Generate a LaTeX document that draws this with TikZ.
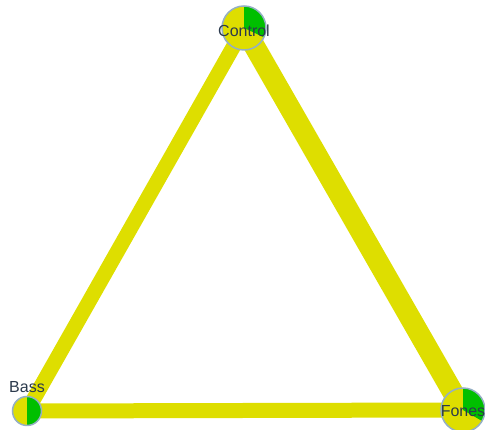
\documentclass[tikz,border=0pt]{standalone}
\usepackage{fontspec}
\setsansfont{Liberation Sans}
\definecolor{linkyellow}{HTML}{DEDE00}
\definecolor{piegreen}{HTML}{00BF00}
\definecolor{rimblue}{HTML}{94AFC4}
\definecolor{labelgray}{HTML}{2B3A4C}
\tikzset{
  link/.style={draw=linkyellow},
  label text/.style={font=\sffamily\fontsize{16}{16}\selectfont, text=labelgray, inner sep=0pt}
}
\newcommand{\piechart}[3]{% centre, radius, end angle of green part
  \fill[linkyellow] (#1) circle (#2);
  \fill[piegreen] (#1) -- ++(90:#2) arc (90:#3:#2) -- cycle;
  \draw[rimblue, line width=1.5pt] (#1) circle (#2);
}
\begin{document}
\begin{tikzpicture}[x=1pt, y=1pt]
	  \useasboundingbox (0,0) rectangle (485,430);
	  \clip (0,0) rectangle (485,430);
	  \coordinate (control) at (244,402);
	  \coordinate (bass) at (27,19);
	  \coordinate (fones) at (463,20);
	  
	  \draw[link, line width=15pt] (control) -- (bass);
	  \draw[link, line width=21pt] (control) -- (fones);
	  \draw[link, line width=15pt] (bass) -- (fones);
	  
	  \piechart{control}{22pt}{-25}
	  \piechart{bass}{14.5pt}{-90}
	  \piechart{fones}{22pt}{-30}
	  
	  \node[label text] (controllabel) at (244,399) {Control};
	  \node[label text] (basslabel) at (27,43) {Bass};
	  \node[label text] (foneslabel) at (463,19) {Fones};
	\end{tikzpicture}
\end{document}
